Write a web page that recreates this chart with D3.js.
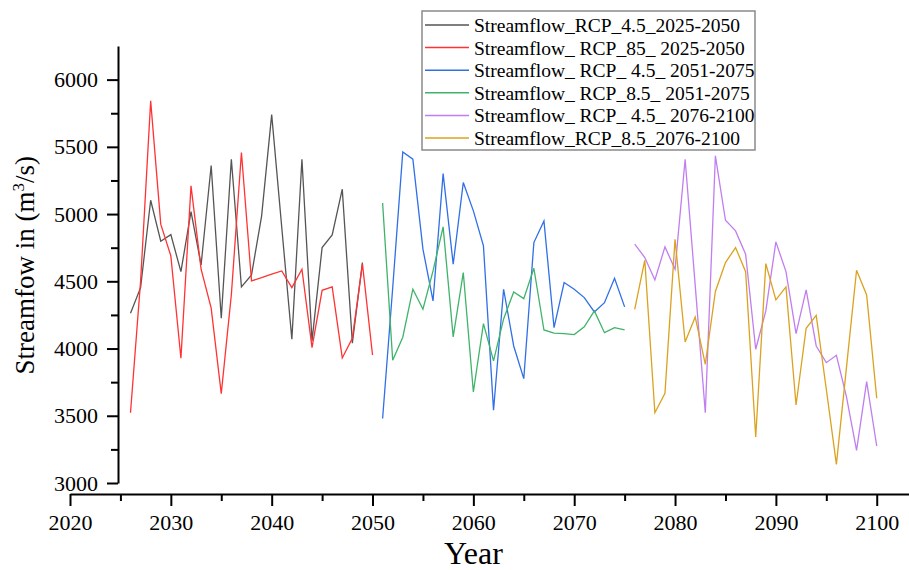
<!DOCTYPE html>
<html lang="en">
<head>
<meta charset="UTF-8">
<title>Streamflow projections</title>
<style>
    body { margin: 0; background: #fff; }
    svg { display: block; font-family: "Liberation Serif", "Times New Roman", serif; }
    svg text { font-family: "Liberation Serif", "Times New Roman", serif; }
    .legend text { white-space: pre; }
</style>
</head>
<body>
<div id="chart"></div>
<script src="https://cdn.jsdelivr.net/npm/d3@7"></script>
<script>

    var width = 909,
        height = 570;

    // streamflow (m3/s) per year
    var rcp45_2025 = [4263, 4453, 5103, 4798, 4847, 4572, 5019, 4622, 5361, 4225, 5408, 4458,
                      4548, 4985, 5740, 4900, 4069, 5408, 4057, 4751, 4845, 5185, 4040, 4640];
    var rcp85_2025 = [3523, 4500, 5842, 4925, 4689, 3928, 5210, 4590, 4300, 3665, 4400, 5458, 4503,
                      4527, 4553, 4577, 4453, 4590, 4007, 4433, 4458, 3930, 4077, 4630, 3952];
    var rcp45_2051 = [3480, 4450, 5462, 5408, 4739, 4354, 5301, 4627, 5235, 5024, 4763, 3541, 4441,
                      4019, 3776, 4788, 4949, 4155, 4491, 4441, 4379, 4272, 4341, 4523, 4310];
    var rcp85_2051 = [5082, 3913, 4084, 4441, 4292, 4577, 4905, 4086, 4565, 3677, 4185, 3908, 4220,
                      4421, 4371, 4597, 4138, 4114, 4111, 4104, 4161, 4280, 4118, 4155, 4138];
    var rcp45_2076 = [4776, 4677, 4510, 4756, 4590, 5408, 4470, 3523, 5433, 4954, 4875, 4701, 3995,
                      4280, 4793, 4572, 4111, 4436, 4019, 3895, 3950, 3640, 3243, 3754, 3275];
    var rcp85_2076 = [4292, 4657, 3523, 3667, 4813, 4049, 4235, 3883, 4424, 4639, 4751, 4572, 3342,
                      4632, 4362, 4458, 3580, 4151, 4247, 3697, 3139, 3860, 4582, 4399, 3630];

    var years_2025 = d3.range(2026, 2051);
    var years_2051 = d3.range(2051, 2076);
    var years_2076 = d3.range(2076, 2101);

    var seriesNames = ["Streamflow_RCP_4.5_2025-2050",
                       "Streamflow_ RCP_85_ 2025-2050",
                       "Streamflow_ RCP_ 4.5_ 2051-2075",
                       "Streamflow_ RCP_8.5_ 2051-2075",
                       "Streamflow_ RCP_ 4.5_ 2076-2100",
                       "Streamflow_RCP_8.5_2076-2100"];
    var seriesColors = ["#555555", "#ff3333", "#2f6fe8", "#3fb36a", "#c07ef0", "#dba21e"];

    var xTicks = [2020, 2030, 2040, 2050, 2060, 2070, 2080, 2090, 2100];
    var yTicks = [3000, 3500, 4000, 4500, 5000, 5500, 6000];

    var series = [
        {name: seriesNames[0], color: seriesColors[0], years: years_2025, values: rcp45_2025},
        {name: seriesNames[1], color: seriesColors[1], years: years_2025, values: rcp85_2025},
        {name: seriesNames[2], color: seriesColors[2], years: years_2051, values: rcp45_2051},
        {name: seriesNames[3], color: seriesColors[3], years: years_2051, values: rcp85_2051},
        {name: seriesNames[4], color: seriesColors[4], years: years_2076, values: rcp45_2076},
        {name: seriesNames[5], color: seriesColors[5], years: years_2076, values: rcp85_2076}
    ];

    var svg = d3.select("#chart").append("svg")
        .attr("width", width)
        .attr("height", height);

    var x = d3.scaleLinear()
        .domain([2020, 2103.2])
        .range([70, 909]);

    var y = d3.scaleLinear()
        .domain([3000, 6250])
        .range([483, 46]);

    var xAxisY = 494,
        yAxisX = 118;

    // y axis: minor ticks every 250, major with labels every 500
    var yAxisG = svg.append("g")
        .attr("transform", "translate(" + yAxisX + ",0)");

    yAxisG.call(d3.axisLeft(y)
        .tickValues(d3.range(3250, 6250, 500))
        .tickSize(7)
        .tickFormat(""));
    yAxisG.select(".domain").remove();

    var yMajor = svg.append("g")
        .attr("transform", "translate(" + yAxisX + ",0)")
        .call(d3.axisLeft(y)
            .tickValues(yTicks)
            .tickSize(11)
            .tickPadding(9)
            .tickSizeOuter(0)
            .tickFormat(d3.format("d")));

    // x axis
    var xMinor = svg.append("g")
        .attr("transform", "translate(0," + xAxisY + ")")
        .call(d3.axisBottom(x)
            .tickValues(d3.range(2025, 2101, 10))
            .tickSize(7)
            .tickFormat(""));
    xMinor.select(".domain").remove();

    var xMajor = svg.append("g")
        .attr("transform", "translate(0," + xAxisY + ")")
        .call(d3.axisBottom(x)
            .tickValues(xTicks)
            .tickSize(12)
            .tickPadding(8)
            .tickSizeOuter(0)
            .tickFormat(d3.format("d")));

    [yMajor, xMajor].forEach(function (g) {
        g.attr("font-family", "Liberation Serif").attr("font-size", 22);
        g.selectAll(".tick text")
            .attr("font-family", "Liberation Serif")
            .style("font-size", "22px")
            .attr("fill", "#000");
    });

    svg.selectAll(".domain, .tick line")
        .attr("stroke", "#000")
        .attr("stroke-width", 2);

    // axis titles
    svg.append("text")
        .attr("x", x(2060))
        .attr("y", 564)
        .attr("text-anchor", "middle")
        .attr("font-size", "32px")
        .text("Year");

    var yTitle = svg.append("text")
        .attr("transform", "translate(34," + y(4620) + ") rotate(-90)")
        .attr("text-anchor", "middle")
        .attr("font-size", "27px");
    yTitle.append("tspan").text("Streamfow in (m");
    yTitle.append("tspan").attr("font-size", "17px").attr("dy", "-10").text("3");
    yTitle.append("tspan").attr("dy", "10").text("/s)");

    // lines
    var line = d3.line()
        .x(function (d) { return x(d[0]); })
        .y(function (d) { return y(d[1]); });

    svg.append("g")
        .selectAll("path")
        .data(series)
        .enter().append("path")
        .attr("fill", "none")
        .attr("stroke", function (d) { return d.color; })
        .attr("stroke-width", 1.3)
        .attr("d", function (d) {
            return line(d.values.map(function (v, i) { return [d.years[i], v]; }));
        });

    // legend
    var legend = svg.append("g")
        .attr("class", "legend")
        .attr("transform", "translate(422,11)");

    legend.append("rect")
        .attr("width", 333)
        .attr("height", 139)
        .attr("fill", "#fff")
        .attr("stroke", "#8a8a8a")
        .attr("stroke-width", 1.5);

    var rows = legend.selectAll(".row")
        .data(series)
        .enter().append("g")
        .attr("class", "row")
        .attr("transform", function (d, i) { return "translate(0," + (14 + i * 22.6) + ")"; });

    rows.append("line")
        .attr("x1", 3)
        .attr("x2", 47)
        .attr("stroke", function (d) { return d.color; })
        .attr("stroke-width", 1.5);

    rows.append("text")
        .attr("x", 52)
        .attr("y", 7)
        .attr("font-size", "19.5px")
        .text(function (d) { return d.name; });

</script>
</body>
</html>
